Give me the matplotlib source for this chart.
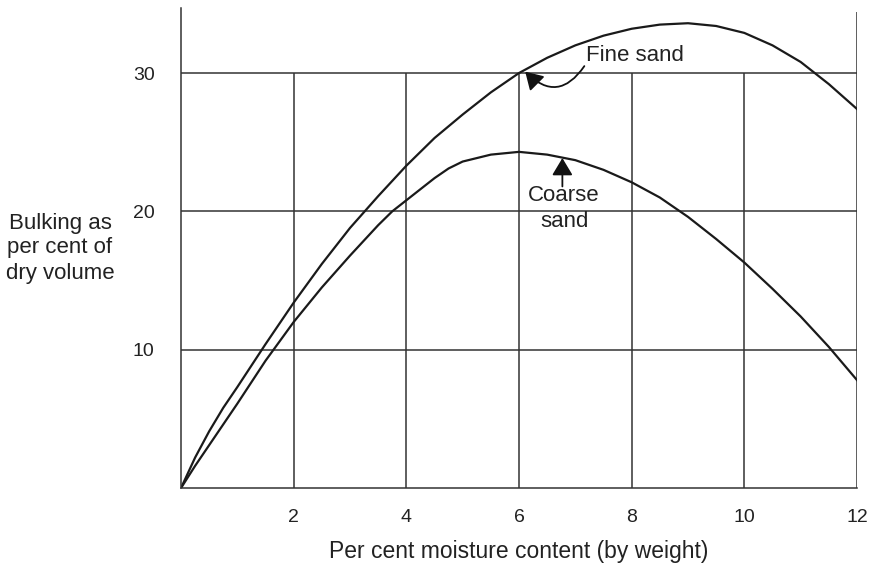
import matplotlib.pyplot as plt

plt.rcParams['font.family'] = ['Liberation Sans', 'DejaVu Sans']

# curve readings (moisture %, bulking %)
fine_x = [0, 0.25, 0.5, 0.75, 1, 1.5, 2, 2.5, 3, 3.5, 4, 4.5, 5, 5.5, 6, 6.5, 7, 7.5,
          8, 8.5, 9, 9.5, 10, 10.5, 11, 11.5, 12]
fine_y = [0, 2.2, 4.1, 5.8, 7.3, 10.4, 13.4, 16.2, 18.8, 21.1, 23.3, 25.3, 27.0, 28.6, 30.0, 31.1, 32.0, 32.7,
          33.2, 33.5, 33.6, 33.4, 32.9, 32.0, 30.8, 29.2, 27.4]

coarse_x = [0, 0.25, 0.5, 0.75, 1, 1.5, 2, 2.5, 3, 3.5, 3.75, 4, 4.25, 4.5, 4.75, 5, 5.5, 6,
            6.5, 7, 7.5, 8, 8.5, 9, 9.5, 10, 10.5, 11, 11.5, 12]
coarse_y = [0, 1.6, 3.1, 4.6, 6.1, 9.2, 12.0, 14.5, 16.8, 19.0, 20.0, 20.8, 21.6, 22.4, 23.1, 23.6, 24.1, 24.3,
            24.1, 23.7, 23.0, 22.1, 21.0, 19.6, 18.0, 16.3, 14.4, 12.4, 10.2, 7.8]

x_ticks = [2, 4, 6, 8, 10, 12]
y_ticks = [10, 20, 30]

fig = plt.figure(figsize=(8.75, 5.64), dpi=100)
ax = fig.add_axes([0.2069, 0.1348, 0.7725, 0.851])

grid_col = '#333333'
ax.hlines(y_ticks, 0, 12, color=grid_col, lw=1.1)
ax.vlines(x_ticks[:-1], 0, 30, color=grid_col, lw=1.1)
ax.vlines(12, 0, 34.4, color=grid_col, lw=1.1)

ax.plot(fine_x, fine_y, color='#1a1a1a', lw=1.6, solid_joinstyle='round')
ax.plot(coarse_x, coarse_y, color='#1a1a1a', lw=1.6, solid_joinstyle='round')

ax.set_xlim(0, 12)
ax.set_ylim(0, 34.7)
ax.set_xticks(x_ticks)
ax.set_yticks(y_ticks)
ax.tick_params(length=0, labelsize=14, colors='#222222')
ax.tick_params(axis='x', pad=15)
ax.tick_params(axis='y', pad=19)
for s in ['top', 'right']:
    ax.spines[s].set_visible(False)
for s in ['left', 'bottom']:
    ax.spines[s].set_color(grid_col)
    ax.spines[s].set_linewidth(1.1)

arrow = dict(arrowstyle='-|>,head_length=0.5,head_width=0.3', mutation_scale=21,
             color='#111111', lw=1.3, shrinkA=0, shrinkB=0)

ax.annotate('', xy=(6.11, 30.1), xytext=(7.16, 30.5),
            arrowprops=dict(connectionstyle='arc3,rad=-0.6', **arrow))
ax.text(7.19, 31.3, 'Fine sand', fontsize=16, color='#222222', ha='left', va='center')

ax.annotate('', xy=(6.77, 23.85), xytext=(6.77, 21.8), arrowprops=arrow)
ax.text(6.8, 21.9, 'Coarse\nsand', fontsize=16, color='#222222', ha='center', va='top',
        linespacing=1.3)

ax.set_xlabel('Per cent moisture content (by weight)', fontsize=16.5, color='#222222', labelpad=10)
fig.text(60 / 875, 1 - 248 / 564, 'Bulking as\nper cent of\ndry volume', fontsize=16,
         color='#222222', ha='center', va='center', multialignment='center', linespacing=1.25)

fig.savefig('out.png', dpi=100)
